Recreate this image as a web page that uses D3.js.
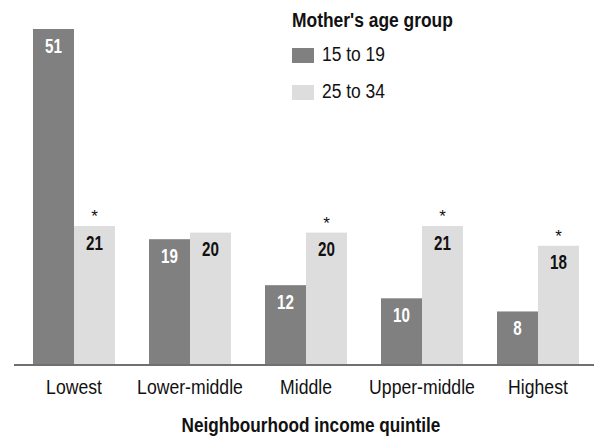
<!DOCTYPE html>
<html>
<head>
<meta charset="utf-8">
<script src="https://cdn.jsdelivr.net/npm/d3@7"></script>
<style>
  html, body { margin: 0; padding: 0; background: #fff; }
  svg { display: block; font-family: "Liberation Sans", Arial, sans-serif; }
</style>
</head>
<body>
<svg id="chart" width="594" height="438"></svg>
<script>
// Births per 1,000 by neighbourhood income quintile and mother's age group
const quintiles = ["Lowest", "Lower-middle", "Middle", "Upper-middle", "Highest"];
const groups = ["15 to 19", "25 to 34"];
const teenValues = [51, 19, 12, 10, 8];
const adultValues = [21, 20, 20, 21, 18];
const adultFlags = [true, false, true, true, true];   // asterisk marks
const groupColors = ["#808080", "#dddddd"];
const labelColors = ["#ffffff", "#111111"];

const svg = d3.select("#chart");
const baseY = 364;

// condensed type: place each text at (x, y) and squeeze it horizontally
function place(sel, fx, fy, sx) {
  return sel.attr("x", 0).attr("y", 0)
    .attr("transform", (d, i) => `translate(${fx(d, i)},${fy(d, i)}) scale(${sx},1)`);
}

const x = d3.scaleBand().domain(quintiles).range([16, 596]).paddingInner(0.293).paddingOuter(0.1465);
const xInner = d3.scaleBand().domain(groups).range([0, x.bandwidth()]);
const y = d3.scaleLinear().domain([0, d3.max(teenValues.concat(adultValues))]).range([baseY, 29]);

const rows = quintiles.map((q, i) => ({
  q,
  bars: [
    { g: groups[0], v: teenValues[i], flag: false, k: 0 },
    { g: groups[1], v: adultValues[i], flag: adultFlags[i], k: 1 }
  ]
}));

const gq = svg.selectAll("g.quintile").data(rows).join("g")
  .attr("class", "quintile")
  .attr("transform", d => `translate(${x(d.q)},0)`);

const bar = gq.selectAll("g.bar").data(d => d.bars).join("g").attr("class", "bar");

bar.append("rect")
  .attr("x", d => xInner(d.g))
  .attr("y", d => y(d.v))
  .attr("width", xInner.bandwidth())
  .attr("height", d => baseY - y(d.v))
  .attr("fill", d => groupColors[d.k]);

place(bar.append("text"),
    d => xInner(d.g) + xInner.bandwidth() / 2,
    d => y(d.v) + 23.5, 0.76)
  .attr("text-anchor", "middle")
  .attr("font-size", 20)
  .attr("font-weight", "bold")
  .attr("fill", d => labelColors[d.k])
  .text(d => d.v);

bar.filter(d => d.flag).append("text")
  .attr("x", d => xInner(d.g) + xInner.bandwidth() / 2)
  .attr("y", d => y(d.v) - 4)
  .attr("text-anchor", "middle")
  .attr("font-size", 17)
  .attr("fill", "#111")
  .text("*");

// baseline
svg.append("line")
  .attr("x1", 14).attr("x2", 594)
  .attr("y1", baseY + 1).attr("y2", baseY + 1)
  .attr("stroke", "#707070")
  .attr("stroke-width", 2);

// category labels
place(svg.append("g").selectAll("text").data(quintiles).join("text"),
    d => x(d) + x.bandwidth() / 2, () => 394, 0.84)
  .attr("text-anchor", "middle")
  .attr("font-size", 21)
  .attr("fill", "#111")
  .text(d => d);

place(svg.append("text"), () => 311, () => 431.5, 0.86)
  .attr("text-anchor", "middle")
  .attr("font-size", 20)
  .attr("font-weight", "bold")
  .attr("fill", "#111")
  .text("Neighbourhood income quintile");

// legend
const legend = svg.append("g");
place(legend.append("text"), () => 292, () => 26.5, 0.83)
  .attr("font-size", 21)
  .attr("font-weight", "bold")
  .attr("fill", "#111")
  .text("Mother's age group");

const item = legend.selectAll("g.item").data(groups).join("g")
  .attr("class", "item")
  .attr("transform", (d, i) => `translate(292,${48 + i * 37})`);
item.append("rect").attr("width", 22).attr("height", 15).attr("fill", (d, i) => groupColors[i]);
place(item.append("text"), () => 30, () => 13, 0.83)
  .attr("font-size", 21).attr("fill", "#111").text(d => d);
</script>
</body>
</html>
